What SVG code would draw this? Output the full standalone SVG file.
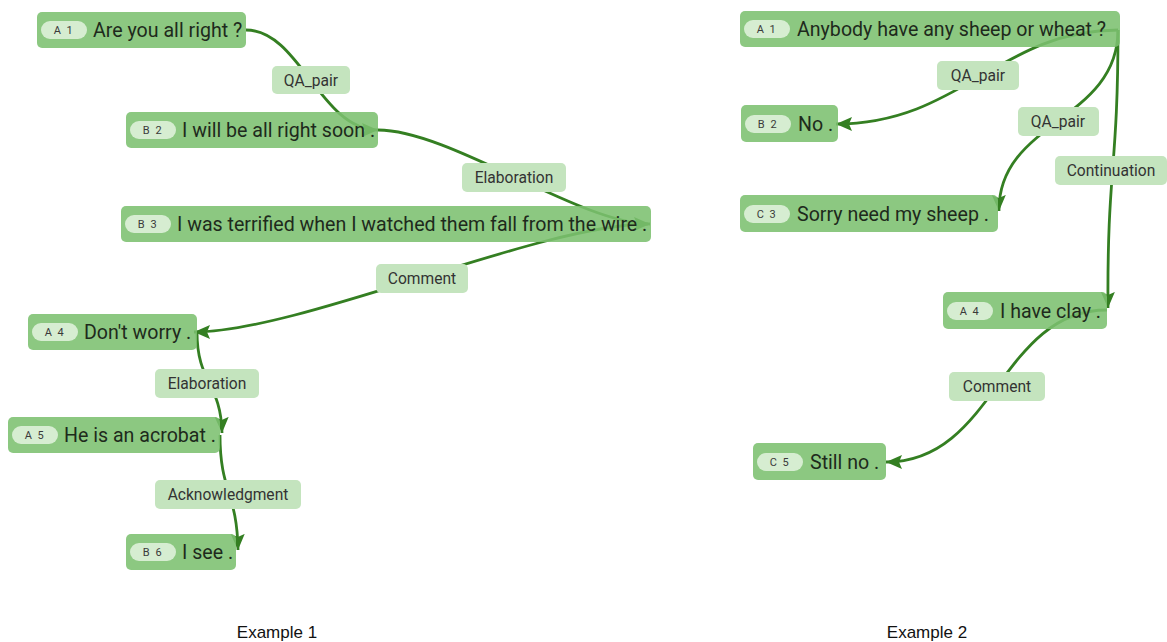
<svg xmlns="http://www.w3.org/2000/svg" width="1167" height="642" viewBox="0 0 1167 642">
<style>
.node rect.box{fill:#7cc070;fill-opacity:0.88}
.node rect.badge{fill:#d6edd1}
.node text.t{font-family:Roboto,"Noto Sans",sans-serif;font-size:19.6px;fill:#1e2a1c}
.node text.b{font-family:Roboto,"Noto Sans",sans-serif;font-size:11px;fill:#3a3a3a;letter-spacing:1.5px;text-anchor:middle}
.edge{fill:none;stroke:#347f22;stroke-width:2.8}
.lbl rect{fill:#c4e4be}
.lbl text{font-family:Roboto,"Noto Sans",sans-serif;font-size:15.6px;fill:#333;text-anchor:middle}
.cap{font-family:"Liberation Sans",Arial,sans-serif;font-size:17px;fill:#111;text-anchor:middle}
</style>
<defs>
<marker id="arr" markerUnits="userSpaceOnUse" markerWidth="18" markerHeight="14" refX="16" refY="7" orient="auto">
<path d="M0,0 L16,7 L0,14 L3,7 z" fill="#347f22"/>
</marker>
</defs>
<rect width="1167" height="642" fill="#fff"/>
<g id="connectors">
<path class="edge" d="M246,30 C300,30 320,130 378,130" marker-end="url(#arr)"/>
<path class="edge" d="M378,130 C450,130 580,224 650,224" marker-end="url(#arr)"/>
<path class="edge" d="M648,224 C540,224 300,332 194,332" marker-end="url(#arr)"/>
<path class="edge" d="M197,332 C197,383 221,383 222,433" marker-end="url(#arr)"/>
<path class="edge" d="M220,435 C220,492 237,492 238,550" marker-end="url(#arr)"/>
<path class="edge" d="M1118,30 C1000,30 960,124 836,124" marker-end="url(#arr)"/>
<path class="edge" d="M1118,30 C1118,121 998,121 999,211" marker-end="url(#arr)"/>
<path class="edge" d="M1118,30 C1118,170 1107,170 1108,308" marker-end="url(#arr)"/>
<path class="edge" d="M1107,310 C1000,310 995,462 886,462" marker-end="url(#arr)"/>
</g>
<g id="n1a1" class="node"><rect class="box" x="37" y="12" width="209" height="36" rx="5"/><rect class="badge" x="41" y="21" width="46" height="18" rx="9"/><text class="b" x="64" y="34">A 1</text><text class="t" x="93" y="37">Are you all right ?</text></g>
<g id="n1b2" class="node"><rect class="box" x="126" y="112" width="252" height="36" rx="5"/><rect class="badge" x="130" y="121" width="46" height="18" rx="9"/><text class="b" x="153" y="134">B 2</text><text class="t" x="182" y="137">I will be all right soon .</text></g>
<g id="n1b3" class="node"><rect class="box" x="121" y="206" width="530" height="36" rx="5"/><rect class="badge" x="125" y="215" width="46" height="18" rx="9"/><text class="b" x="148" y="228">B 3</text><text class="t" x="177" y="231">I was terrified when I watched them fall from the wire .</text></g>
<g id="n1a4" class="node"><rect class="box" x="28" y="314" width="169" height="36" rx="5"/><rect class="badge" x="32" y="323" width="46" height="18" rx="9"/><text class="b" x="55" y="336">A 4</text><text class="t" x="84" y="339">Don't worry .</text></g>
<g id="n1a5" class="node"><rect class="box" x="8" y="417" width="212" height="36" rx="5"/><rect class="badge" x="12" y="426" width="46" height="18" rx="9"/><text class="b" x="35" y="439">A 5</text><text class="t" x="64" y="442">He is an acrobat .</text></g>
<g id="n1b6" class="node"><rect class="box" x="126" y="534" width="110" height="36" rx="5"/><rect class="badge" x="130" y="543" width="46" height="18" rx="9"/><text class="b" x="153" y="556">B 6</text><text class="t" x="182" y="559">I see .</text></g>
<g id="n2a1" class="node"><rect class="box" x="740" y="11" width="380" height="36" rx="5"/><rect class="badge" x="744" y="20" width="46" height="18" rx="9"/><text class="b" x="767" y="33">A 1</text><text class="t" x="797" y="36">Anybody have any sheep or wheat ?</text></g>
<g id="n2b2" class="node"><rect class="box" x="741" y="105" width="97" height="37" rx="5"/><rect class="badge" x="745" y="115" width="46" height="18" rx="9"/><text class="b" x="768" y="128">B 2</text><text class="t" x="798" y="131">No .</text></g>
<g id="n2c3" class="node"><rect class="box" x="740" y="195" width="258" height="37" rx="5"/><rect class="badge" x="744" y="205" width="46" height="18" rx="9"/><text class="b" x="767" y="218">C 3</text><text class="t" x="797" y="221">Sorry need my sheep .</text></g>
<g id="n2a4" class="node"><rect class="box" x="943" y="292" width="164" height="37" rx="5"/><rect class="badge" x="947" y="302" width="46" height="18" rx="9"/><text class="b" x="970" y="315">A 4</text><text class="t" x="1000" y="318">I have clay .</text></g>
<g id="n2c5" class="node"><rect class="box" x="753" y="443" width="133" height="37" rx="5"/><rect class="badge" x="757" y="453" width="46" height="18" rx="9"/><text class="b" x="780" y="466">C 5</text><text class="t" x="810" y="469">Still no .</text></g>
<g id="labels">
<g class="lbl"><rect x="272" y="66" width="78" height="28" rx="5"/><text x="311" y="86">QA_pair</text></g>
<g class="lbl"><rect x="462" y="163" width="104" height="29" rx="5"/><text x="514" y="183">Elaboration</text></g>
<g class="lbl"><rect x="376" y="264" width="92" height="29" rx="5"/><text x="422" y="284">Comment</text></g>
<g class="lbl"><rect x="155" y="369" width="104" height="29" rx="5"/><text x="207" y="389">Elaboration</text></g>
<g class="lbl"><rect x="155" y="480" width="146" height="29" rx="5"/><text x="228" y="500">Acknowledgment</text></g>
<g class="lbl"><rect x="937" y="61" width="82" height="29" rx="5"/><text x="978" y="81">QA_pair</text></g>
<g class="lbl"><rect x="1018" y="107" width="81" height="29" rx="5"/><text x="1058" y="127">QA_pair</text></g>
<g class="lbl"><rect x="1055" y="156" width="112" height="29" rx="5"/><text x="1111" y="176">Continuation</text></g>
<g class="lbl"><rect x="949" y="372" width="96" height="29" rx="5"/><text x="997" y="392">Comment</text></g>
</g>
<text class="cap" x="277" y="638">Example 1</text>
<text class="cap" x="927" y="638">Example 2</text>
</svg>
